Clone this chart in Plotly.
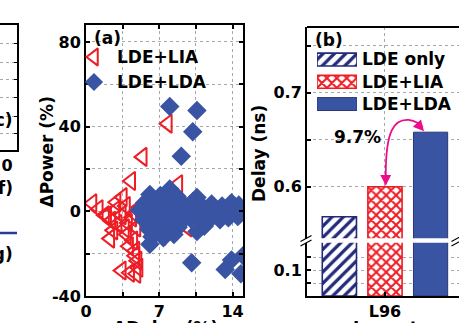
import plotly.graph_objects as go

W, H = 459, 323


def fx(p):
    """pixel column -> paper x"""
    return p / W


def fy(p):
    """pixel row -> paper y"""
    return 1 - p / H


FONT = "DejaVu Sans"
BLUE = "#3a54a4"
RED = "#ee1d25"
NAVY = "#222a7a"
MAGENTA = "#ec0c8c"
GRID = "#a8a8a8"

# ---------------- panel (a): change of power vs change of delay ----------------
lia_delay = [7.8, 5.4, 4.3, 8.8, 0.6, 3.5, 1.8, 2.8, 3.4, 4.4, 2.6, 2.3, 3.7, 4.5,
             4.7, 4.9, 4.2, 5.0, 4.7, 5.1, 2.9, 4.8, 3.4, 4.8, 7.2, 7.2, 9.7, 5.6,
             3.9, 2.0, 1.2, 4.0, 3.0, 3.8, 4.6, 2.4, 4.1]
lia_power = [41.4, 25.7, 14.3, 12.8, 3.8, 6.7, -1.9, 0.5, -1.9, -2.9, -9.0, -12.9,
             -8.0, -13.8, -21.0, -23.3, -29.0, -26.7, -18.6, 1.9, 4.3, -7.6, -28.0,
             -29.5, 3.8, -11.6, -7.6, -4.0, -11.0, -2.0, 1.0, -5.5, -6.0, 2.5, -1.0,
             -4.5, -16.5]

lda_delay = [8.0, 10.6, 10.2, 9.1,
             6.1, 8.0, 8.7, 7.1, 10.6,
             5.6, 6.6, 7.4, 8.3, 9.4, 10.2, 11.0, 12.0, 13.0, 13.9, 14.6,
             5.1, 6.0, 6.9, 7.8, 8.7, 9.6, 10.5, 11.4, 12.3, 13.2, 14.1, 14.9,
             5.5, 6.4, 7.3, 8.2, 9.1, 10.0, 11.0, 11.9, 12.8, 13.6, 14.5,
             6.0, 7.0, 7.9, 8.8, 10.6, 11.3,
             6.3, 7.4, 8.4, 6.1,
             10.1, 13.9, 13.3, 14.8, 15.0]
lda_power = [49.5, 47.6, 37.6, 26.0,
             8.0, 10.5, 7.0, 7.5, 6.5,
             4.0, 3.5, 4.5, 5.0, 3.0, 4.5, 3.0, 3.5, 2.5, 4.0, 3.0,
             0.5, -0.5, 0.0, 1.0, -0.5, 0.5, 0.0, 0.5, -0.5, 0.0, 1.0, 0.0,
             -4.0, -4.5, -3.5, -4.0, -5.0, -3.5, -4.5, -3.5, -4.0, -3.0, -2.5,
             -8.5, -9.0, -8.0, -7.5, -9.5, -7.0,
             -12.0, -12.5, -11.0, -15.5,
             -24.3, -23.0, -27.5, -29.5, -21.0]

scatter_series = ["LDE+LIA", "LDE+LDA"]

# ---------------- panel (b): delay of each flow ----------------
layouts = ["L96"]
bar_series = ["LDE only", "LDE+LIA", "LDE+LDA"]
delay_ns = [0.568, 0.600, 0.658]
gain_label = f"{(delay_ns[2] / delay_ns[1] - 1) * 100:.1f}%"

BARGAP = 0.1
BARGROUPGAP = 0.25
slot = (1 - BARGAP) / len(bar_series)
bar_centers = [(i - (len(bar_series) - 1) / 2) * slot for i in range(len(bar_series))]

bar_styles = [
    dict(color="white", line=dict(color=NAVY, width=1.6),
         pattern=dict(shape="/", fgcolor=NAVY, bgcolor="white", size=8, solidity=0.4)),
    dict(color="white", line=dict(color=RED, width=1.6),
         pattern=dict(shape="x", fgcolor=RED, bgcolor="white", size=7, solidity=0.5)),
    dict(color=BLUE, line=dict(color="#2b3670", width=1)),
]

TRI = dict(symbol="triangle-left-open", size=16, color=RED, line=dict(width=2, color=RED))
DIA = dict(symbol="diamond", size=15, color=BLUE, line=dict(width=0))

fig = go.Figure()

# scatter (a)
fig.add_trace(go.Scatter(x=lia_delay, y=lia_power, mode="markers", xaxis="x", yaxis="y",
                         marker=TRI, showlegend=False))
fig.add_trace(go.Scatter(x=lda_delay, y=lda_power, mode="markers", xaxis="x", yaxis="y",
                         marker=DIA, showlegend=False))

# bars (b), drawn on both halves of the broken axis
positions = list(range(len(layouts)))
for yax in ("y2", "y3"):
    for name, val, st in zip(bar_series, delay_ns, bar_styles):
        fig.add_trace(go.Bar(x=positions, y=[val], name=name, xaxis="x2", yaxis=yax,
                             marker=st, showlegend=False))

# key for (b): one swatch per series
for name, st in zip(bar_series, bar_styles):
    fig.add_trace(go.Bar(x=[1], y=[name], orientation="h", xaxis="x3", yaxis="y4",
                         width=0.58, offset=-0.29, marker=st, showlegend=False))

# key for (a)
fig.add_trace(go.Scatter(x=[0], y=[scatter_series[0]], mode="markers", xaxis="x4", yaxis="y5",
                         marker=dict(TRI, size=15), showlegend=False))
fig.add_trace(go.Scatter(x=[0], y=[scatter_series[1]], mode="markers", xaxis="x4", yaxis="y5",
                         marker=dict(DIA, size=14), showlegend=False))

# neighbouring panel (c) key marker
fig.add_trace(go.Scatter(x=[-1.5], y=[97.5], mode="markers", xaxis="x5", yaxis="y6",
                         cliponaxis=False,
                         marker=dict(symbol="square-open", size=9, color=NAVY,
                                     line=dict(width=2, color=NAVY)), showlegend=False))

tick_font = dict(family=FONT, size=16, color="black", weight="bold")
label_font = dict(family=FONT, size=17, color="black", weight="bold")

common_frame = dict(showline=True, linecolor="black", linewidth=2, ticks="inside",
                    ticklen=4, tickwidth=1.5, tickcolor="black", zeroline=False,
                    gridcolor=GRID, griddash="dot", gridwidth=1, tickfont=tick_font,
                    fixedrange=True, automargin=False)

hidden = dict(visible=False, fixedrange=True, automargin=False)

frag = dict(showline=True, linecolor="black", linewidth=1.5, fixedrange=True,
            automargin=False, zeroline=False)

fig.update_layout(
    template="none",
    width=W, height=H, autosize=False,
    margin=dict(l=0, r=0, t=0, b=0, pad=0, autoexpand=False),
    paper_bgcolor="white", plot_bgcolor="rgba(0,0,0,0)",
    showlegend=False,
    barmode="group", bargap=BARGAP, bargroupgap=BARGROUPGAP,
    # panel (a)
    xaxis=dict(domain=[fx(86), fx(243)], range=[0, 15], anchor="y", mirror="ticks",
               tickvals=[0, 3.5, 7, 10.5, 14], ticktext=["0", "", "7", "", "14"],
               showgrid=True, **common_frame),
    yaxis=dict(domain=[fy(296), fy(25)], range=[-40, 88], anchor="x", mirror="ticks",
               tickvals=[-40, -20, 0, 20, 40, 60, 80],
               ticktext=["-40", "", "0", "", "40", "", "80"], showgrid=True,
               **common_frame),
    # panel (b)
    xaxis2=dict(domain=[fx(307), 1], range=[-0.513, 0.487], anchor="y3",
                tickvals=positions, ticktext=layouts, showgrid=True, **common_frame),
    yaxis2=dict(domain=[fy(238.5), fy(27)], range=[0.5449, 0.7699], anchor="x2",
                tickvals=[0.6, 0.65, 0.7, 0.75], ticktext=["0.6", "", "0.7", ""],
                showgrid=True, **common_frame),
    yaxis3=dict(domain=[fy(296), fy(242.5)], range=[0, 0.2058], anchor="x2",
                tickvals=[0.05, 0.1, 0.15], ticktext=["", "0.1", ""],
                showgrid=True, **common_frame),
    # key of (b)
    xaxis3=dict(domain=[fx(317), fx(357)], range=[0, 1], anchor="y4", **hidden),
    yaxis4=dict(domain=[fy(115.2), fy(48.4)], anchor="x3", type="category",
                range=[2.5, -0.5], side="right", showline=False, showgrid=False,
                zeroline=False, ticks="", tickfont=label_font, ticklabelstandoff=4,
                fixedrange=True, automargin=False),
    # key of (a)
    xaxis4=dict(domain=[fx(84), fx(104)], range=[-1, 1], anchor="y5", **hidden),
    yaxis5=dict(domain=[fy(94.5), fy(44.5)], anchor="x4", type="category",
                range=[1.5, -0.5], side="right", showline=False, showgrid=False,
                zeroline=False, ticks="", tickfont=label_font, ticklabelstandoff=12,
                fixedrange=True, automargin=False),
    # neighbouring panels (c), (f), (g)
    xaxis5=dict(domain=[0, fx(17)], range=[0, 17], anchor="y6", mirror=True,
                showgrid=False, tickvals=[7], ticktext=["0"], ticks="",
                tickfont=tick_font, **frag),
    yaxis6=dict(domain=[fy(150), fy(25)], range=[0, 125], anchor="x5", side="right",
                ticks="inside", ticklen=3, tickcolor="black",
                tickvals=[17, 34, 53, 71, 88, 107], showticklabels=False,
                showgrid=True, gridcolor=GRID, griddash="dot", **frag),
    xaxis6=dict(domain=[0, fx(17)], range=[0, 17], anchor="y7", mirror=True,
                showgrid=False, showticklabels=False, ticks="", **frag),
    yaxis7=dict(domain=[fy(233), fy(182)], range=[0, 51], anchor="x6", side="right",
                ticks="inside", ticklen=3, tickcolor="black", tickvals=[11, 30],
                showticklabels=False, showgrid=True, gridcolor=GRID, griddash="dot",
                **frag),
    xaxis7=dict(domain=[0, fx(17)], range=[0, 17], anchor="y8", mirror=True,
                showgrid=True, gridcolor=GRID, griddash="dot", tickvals=[5],
                showticklabels=False, ticks="", **frag),
    yaxis8=dict(domain=[fy(305), fy(242)], range=[0, 63], anchor="x7", side="right",
                ticks="inside", ticklen=3, tickcolor="black", tickvals=[20, 38],
                showticklabels=False, showgrid=True, gridcolor=GRID, griddash="dot",
                **frag),
)

# the bottom of panel (f) is a blue bar edge
fig.add_shape(type="line", xref="paper", yref="paper", x0=0, x1=fx(17),
              y0=fy(233), y1=fy(233), line=dict(color="#2a3a96", width=2.5), layer="above")

# top frame of panel (b)
fig.add_shape(type="line", xref="paper", yref="paper", x0=fx(307), x1=1,
              y0=fy(27), y1=fy(27), line=dict(color="black", width=2), layer="above")

# axis break: white gap across the bars plus slash marks on both sides
fig.add_shape(type="rect", xref="paper", yref="paper", x0=fx(308), x1=1,
              y0=fy(242.5), y1=fy(238.5), fillcolor="white", line=dict(width=0),
              layer="above")
for xc in (306, 457):
    for dy in (0, -4.5):
        fig.add_shape(type="line", xref="paper", yref="paper",
                      x0=fx(xc - 5.5), y0=fy(246 + dy), x1=fx(xc + 5.5), y1=fy(240 + dy),
                      line=dict(color="black", width=1.2), layer="above")

# curved double-headed arrow from the LDE+LIA bar to the LDE+LDA bar
xa, xb = bar_centers[1], bar_centers[2]
ya, yb = delay_ns[1], delay_ns[2]
path = (f"M {xa + 0.005},{ya + 0.012} "
        f"C {xa + 0.005},{ya + 0.06} {xa + 0.06},{yb + 0.014} {xa + 0.155},{yb + 0.013} "
        f"C {xa + 0.2},{yb + 0.012} {xa + 0.23},{yb + 0.009} {xb - 0.052},{yb + 0.005}")
fig.add_shape(type="path", xref="x2", yref="y2", path=path,
              line=dict(color=MAGENTA, width=1.8), layer="above")
fig.add_annotation(x=xa + 0.005, y=ya + 0.001, xref="x2", yref="y2", ax=0, ay=-13,
                   text="", showarrow=True, arrowhead=2, arrowsize=1.2, arrowwidth=1.8,
                   arrowcolor=MAGENTA, standoff=0)
fig.add_annotation(x=xb - 0.043, y=yb + 0.001, xref="x2", yref="y2", ax=-7, ay=-8,
                   text="", showarrow=True, arrowhead=2, arrowsize=1.2, arrowwidth=1.8,
                   arrowcolor=MAGENTA, standoff=0)
fig.add_annotation(x=xa - 0.01, y=0.653, xref="x2", yref="y2", text=gain_label,
                   showarrow=False, xanchor="right", yanchor="middle", font=label_font)

# panel letters
for txt, x, y in [("(a)", 92, 38), ("(b)", 313, 40)]:
    fig.add_annotation(x=fx(x), y=fy(y), xref="paper", yref="paper", text=txt,
                       showarrow=False, xanchor="left", yanchor="middle", font=label_font)
for txt, y in [("(c)", 120), ("(f)", 188), ("(g)", 254)]:
    fig.add_annotation(x=fx(15), y=fy(y), xref="paper", yref="paper", text=txt,
                       showarrow=False, xanchor="right", yanchor="middle", font=label_font)

# axis titles
fig.add_annotation(x=fx(46.5), y=fy(152), xref="paper", yref="paper", text="ΔPower (%)",
                   textangle=-90, showarrow=False, xanchor="center", yanchor="middle",
                   font=label_font)
fig.add_annotation(x=fx(165), y=fy(327.5), xref="paper", yref="paper", text="ΔDelay (%)",
                   showarrow=False, xanchor="center", yanchor="middle", font=label_font)
fig.add_annotation(x=fx(259), y=fy(154), xref="paper", yref="paper", text="Delay (ns)",
                   textangle=-90, showarrow=False, xanchor="center", yanchor="middle",
                   font=label_font)
fig.add_annotation(x=fx(385), y=fy(328), xref="paper", yref="paper", text="Layout",
                   showarrow=False, xanchor="center", yanchor="middle", font=label_font)

fig.write_html("out.html")
